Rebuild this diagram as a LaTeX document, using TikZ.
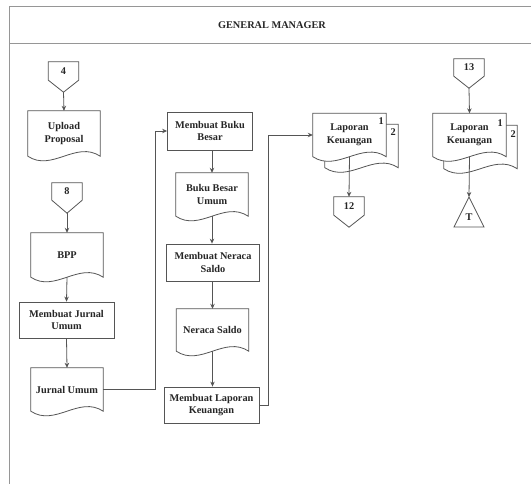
\documentclass[tikz,border=0pt]{standalone}
\usepackage{fontspec}
\setmainfont{Liberation Serif}
\usetikzlibrary{arrows.meta,calc,backgrounds}
\definecolor{linegray}{RGB}{85,85,85}
\definecolor{framegray}{RGB}{150,150,150}
\tikzset{
  ln/.style={draw=linegray, line width=0.8pt},
  lbl/.style={font=\bfseries\fontsize{10.3}{12.7}\selectfont, align=center, inner sep=0pt, text=black!85},
  procbox/.style={lbl, ln, fill=white, minimum width=#1, minimum height=36},
  docbox/.style={lbl, minimum width=#1, minimum height=43},
  conbox/.style={lbl, minimum width=30, minimum height=18},
  arr/.style={ln, -{Stealth[length=5pt,width=4.5pt]}}
}
\newcommand\docshape[3]{%
  \draw[ln,fill=white] ([shift={#3}]#1.north west) -- ([shift={#3}]#1.north east) -- ([shift={#3}]#1.south east)
    .. controls +(-#2/3,-16) and +(#2/3,16) .. ([shift={#3}]#1.south west) -- cycle;}
\newcommand\conshape[1]{%
  \draw[ln,fill=white] (#1.north west) -- (#1.north east) -- (#1.south east) -- (#1tip) -- (#1.south west) -- cycle;}
\begin{document}
\begin{tikzpicture}[x=1pt,y=-1pt]
\useasboundingbox (0,0) rectangle (531,484);
% nodes
\node[lbl] (gm) at (272,25) {GENERAL MANAGER};
% left column
\node[conbox] (c4) at (63.5,71) {4};
\coordinate (c4tip) at ($(c4.south)+(0,12)$);
\node[docbox=72, minimum height=45] (up) at (64,133.5) {Upload\\Proposal};
\node[conbox, minimum height=17] (c8) at (67,191.5) {8};
\coordinate (c8tip) at ($(c8.south)+(0,13)$);
\node[docbox=72, minimum height=44] (bpp) at (67,255) {BPP};
\node[procbox=95] (mju) at (66.5,320) {Membuat Jurnal\\Umum};
\node[docbox=72] (ju) at (67,389.5) {Jurnal Umum};
% middle column
\node[procbox=85, minimum height=38] (mbb) at (210,131) {Membuat Buku\\Besar};
\node[docbox=72] (bbu) at (212,194.5) {Buku Besar\\Umum};
\node[procbox=93, minimum height=37] (mns) at (213,262.5) {Membuat Neraca\\Saldo};
\node[docbox=72, minimum height=42] (ns) at (212.5,330) {Neraca Saldo};
\node[procbox=95] (mlk) at (211.5,405) {Membuat Laporan\\Keuangan};
% right part
\node[docbox=73] (lk1) at (349.5,135) {Laporan\\Keuangan};
\node[lbl] (lk1n1) at ($(lk1.north east)+(-5,8)$) {1};
\node[lbl] (lk1n2) at ($(lk1.north east)+(7,19)$) {2};
\node[conbox] (c12) at (349,206) {12};
\coordinate (c12tip) at ($(c12.south)+(0,12)$);
\node[conbox, minimum height=17] (c13) at (469,67.5) {13};
\coordinate (c13tip) at ($(c13.south)+(0,12)$);
\node[docbox=73] (lk2) at (469.5,135) {Laporan\\Keuangan};
\node[lbl] (lk2n1) at ($(lk2.north east)+(-6,10)$) {1};
\node[lbl] (lk2n2) at ($(lk2.north east)+(7,21)$) {2};
\node[lbl] (tt) at (469,217) {T};
\coordinate (ttop) at (469,197);
\coordinate (tbl) at (454,227);
\coordinate (tbr) at (484,227);
\coordinate (jx) at (155,0);
\coordinate (lx) at (268,0);
% shapes
\begin{scope}[on background layer]
  \fill[white] (0,0) rectangle (531,484);
  \begin{scope}
    \clip (0,0) rectangle (531,484);
    \draw[framegray, line width=1pt] (9,7) rectangle (560,520);
    \draw[framegray, line width=1pt] (9,44) -- (560,44);
  \end{scope}
  \conshape{c4}
  \docshape{up}{72}{(0,0)}
  \conshape{c8}
  \docshape{bpp}{72}{(0,0)}
  \docshape{ju}{72}{(0,0)}
  \docshape{bbu}{72}{(0,0)}
  \docshape{ns}{72}{(0,0)}
  \docshape{lk1}{73}{(12,11)}
  \docshape{lk1}{73}{(0,0)}
  \conshape{c12}
  \conshape{c13}
  \docshape{lk2}{73}{(11,12)}
  \docshape{lk2}{73}{(0,0)}
  \draw[ln,fill=white] (ttop) -- (tbr) -- (tbl) -- cycle;
\end{scope}
% connectors
\draw[arr] (c4tip) -- (up.north);
\draw[arr] (c8tip) -- (bpp.north);
\draw[arr] (bpp.south) -- (mju.north);
\draw[arr] (mju.south) -- (ju.north);
\draw[arr] (ju.east) -- (ju.east -| jx) |- (mbb.west);
\draw[arr] (mbb.south -| bbu.north) -- (bbu.north);
\draw[arr] (bbu.south) -- (bbu.south |- mns.north);
\draw[arr] (mns.south -| ns.north) -- (ns.north);
\draw[arr] (ns.south) -- (ns.south |- mlk.north);
\draw[ln] (mlk.east) -- (mlk.east -| lx) -- (lx |- lk1.west);
\draw[arr] (lx |- lk1.west) -- (lk1.west);
\draw[arr] (lk1.south) -- (c12.north);
\draw[arr] (c13tip) -- (lk2.north);
\draw[arr] (lk2.south) -- (ttop);
\end{tikzpicture}
\end{document}
